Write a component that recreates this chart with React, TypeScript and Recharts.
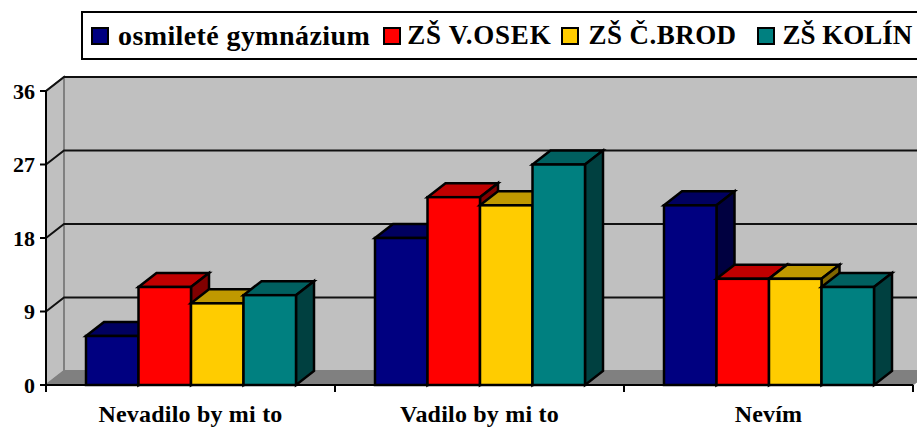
import { BarChart, Bar, XAxis, YAxis, CartesianGrid, Legend, usePlotArea } from "recharts";

const FONT = "'Liberation Serif', serif";
const DX = 18;
const DY = 14;

const categories = ["Nevadilo by mi to", "Vadilo by mi to", "Nevím"];
const gymnazium = [6, 18, 22];
const osek = [12, 23, 13];
const brod = [10, 22, 13];
const kolin = [11, 27, 12];
const yTicks = [0, 9, 18, 27, 36];

const seriesList = [
  { key: "gymnazium", name: "osmileté gymnázium", values: gymnazium, fill: "#000080", top: "#000060", side: "#000040" },
  { key: "osek", name: "ZŠ V.OSEK", values: osek, fill: "#ff0000", top: "#c00000", side: "#800000" },
  { key: "brod", name: "ZŠ Č.BROD", values: brod, fill: "#ffcc00", top: "#c09900", side: "#806600" },
  { key: "kolin", name: "ZŠ KOLÍN", values: kolin, fill: "#008080", top: "#006060", side: "#004040" },
];

const data = categories.map((name, i) => {
  const row: any = { name };
  seriesList.forEach((s) => {
    row[s.key] = s.values[i];
  });
  return row;
});

// back wall, side wall and floor of the 3D box
const Walls = () => {
  const plot = usePlotArea();
  if (!plot) return null;
  const { x, y, width, height } = plot;
  const bottom = y + height;
  const right = x + width;
  return (
    <g>
      <rect x={x + DX} y={y - DY} width={width} height={height} fill="#c0c0c0" stroke="#808080" strokeWidth={2} />
      <polygon
        points={`${x},${y} ${x + DX},${y - DY} ${x + DX},${bottom - DY} ${x},${bottom}`}
        fill="#c0c0c0"
        stroke="#808080"
        strokeWidth={2}
      />
      <polygon
        points={`${x},${bottom} ${x + DX},${bottom - DY} ${right + DX},${bottom - DY} ${right},${bottom}`}
        fill="#808080"
        stroke="#808080"
      />
    </g>
  );
};

// ticks sit on the category boundaries, not on the centres
const BoundaryTicks = () => {
  const plot = usePlotArea();
  if (!plot) return null;
  const { x, y, width, height } = plot;
  return (
    <g>
      {[0, 1, 2, 3].map((i) => {
        const tx = x + (width * i) / categories.length;
        return <line key={i} x1={tx} x2={tx} y1={y + height} y2={y + height + 7} stroke="#000" strokeWidth={2} />;
      })}
    </g>
  );
};

// gridline runs across the back wall and down the side wall
const GridLine = (props: any) => {
  const { x1, x2, y1, index } = props;
  if (y1 > 380) return <g key={index} />;
  return (
    <polyline
      key={index}
      points={`${x1},${y1} ${x1 + DX},${y1 - DY} ${x2 + DX},${y1 - DY}`}
      fill="none"
      stroke="#111"
      strokeWidth={2}
    />
  );
};

const Box3D = (props: any) => {
  const { x, y, width, height, fill, top, side } = props;
  const r = x + width;
  const b = y + height;
  return (
    <g stroke="#000" strokeWidth={2.5} strokeLinejoin="miter">
      <polygon points={`${x},${y} ${x + DX},${y - DY} ${r + DX},${y - DY} ${r},${y}`} fill={top} />
      <polygon points={`${r},${y} ${r + DX},${y - DY} ${r + DX},${b - DY} ${r},${b}`} fill={side} />
      <rect x={x} y={y} width={width} height={height} fill={fill} />
    </g>
  );
};

// legend spacing per entry, the source text is not evenly set
const swatchGaps = [0, 13, 10, 20];
const textGaps = [9, 6, 9, 8];
const textSizes = [28, 27, 27, 27];
const textSpacing = [0.4, 0.8, 0.45, 0];

const LegendBox = () => (
  <div
    style={{
      position: "absolute",
      left: 81,
      top: 11,
      width: 860,
      height: 49,
      boxSizing: "border-box",
      border: "2px solid #000",
      background: "#fff",
      display: "flex",
      alignItems: "center",
      paddingLeft: 8,
      fontFamily: FONT,
      fontWeight: "bold",
      color: "#000",
      whiteSpace: "nowrap",
    }}
  >
    {seriesList.map((s, i) => (
      <div key={s.key} style={{ display: "flex", alignItems: "center", marginLeft: swatchGaps[i] }}>
        <span
          style={{
            display: "inline-block",
            width: 14,
            height: 14,
            background: s.fill,
            border: "2px solid #000",
            marginRight: textGaps[i],
          }}
        />
        <span style={{ fontSize: textSizes[i], letterSpacing: textSpacing[i] }}>{s.name}</span>
      </div>
    ))}
  </div>
);

export default function App() {
  return (
    <div style={{ position: "absolute", left: 0, top: 0, width: 917, height: 428, overflow: "hidden" }}>
      <BarChart
        width={917}
        height={428}
        data={data}
        barSize={52.5}
        barGap={0}
        margin={{ top: 91, right: 4, bottom: 0, left: 0 }}
        style={{ fontFamily: FONT }}
      >
        <Walls />
        <CartesianGrid
          horizontal={(p: any) => <GridLine {...p} />}
          vertical={false}
          zIndex={1}
        />
        <Legend content={<LegendBox />} wrapperStyle={{ position: "static" }} />
        <XAxis
          dataKey="name"
          tickLine={false}
          axisLine={{ stroke: "#000", strokeWidth: 2 }}
          interval={0}
          tick={{ fill: "#000", fontSize: 24, letterSpacing: 0.2, fontWeight: "bold", fontFamily: FONT }}
          tickMargin={14}
          height={43}
        />
        <YAxis
          domain={[0, 36]}
          ticks={yTicks}
          width={46}
          tickSize={6}
          tickLine={{ stroke: "#000", strokeWidth: 2 }}
          axisLine={{ stroke: "#000", strokeWidth: 2 }}
          tick={{ fill: "#000", fontSize: 22, fontWeight: "bold", fontFamily: FONT }}
          tickMargin={5}
        />
        {seriesList.map((s) => (
          <Bar
            key={s.key}
            dataKey={s.key}
            name={s.name}
            fill={s.fill}
            isAnimationActive={false}
            shape={(p: any) => <Box3D {...p} fill={s.fill} top={s.top} side={s.side} />}
          />
        ))}
        <BoundaryTicks />
      </BarChart>
    </div>
  );
}
